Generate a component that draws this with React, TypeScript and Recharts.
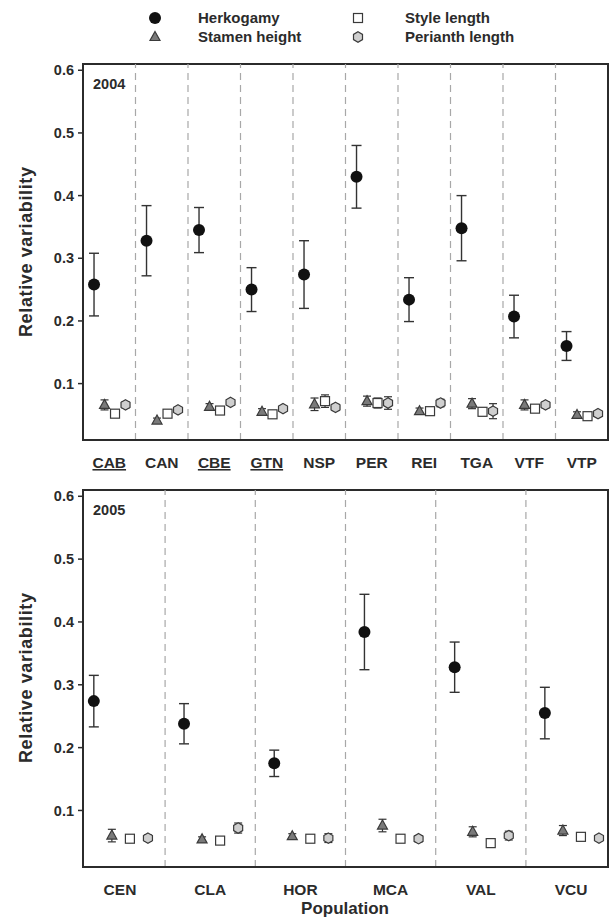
import React from "react";
import {
  ScatterChart,
  Scatter,
  XAxis,
  YAxis,
  ErrorBar,
  ReferenceLine,
  ReferenceArea,
  Label,
} from "recharts";

const FONT = '"Liberation Sans", Arial, sans-serif';
const INK = "#2b2b2b";

// 2004 populations
const pops2004 = ["CAB", "CAN", "CBE", "GTN", "NSP", "PER", "REI", "TGA", "VTF", "VTP"];
const underlined2004 = ["CAB", "CBE", "GTN"];
const herk2004 = [0.258, 0.328, 0.345, 0.25, 0.274, 0.43, 0.234, 0.348, 0.207, 0.16];
const herkErr2004 = [0.05, 0.056, 0.036, 0.035, 0.054, 0.05, 0.035, 0.052, 0.034, 0.023];
const stamen2004 = [0.066, 0.041, 0.063, 0.055, 0.067, 0.072, 0.056, 0.068, 0.066, 0.05];
const stamenErr2004 = [0.008, 0.004, 0.005, 0.005, 0.01, 0.008, 0.005, 0.008, 0.008, 0.005];
const style2004 = [0.052, 0.052, 0.057, 0.051, 0.072, 0.069, 0.056, 0.055, 0.06, 0.048];
const styleErr2004 = [0.005, 0.004, 0.004, 0.004, 0.01, 0.008, 0.004, 0.006, 0.005, 0.004];
const perianth2004 = [0.066, 0.058, 0.07, 0.06, 0.062, 0.069, 0.069, 0.056, 0.066, 0.052];
const perianthErr2004 = [0.005, 0.004, 0.004, 0.004, 0.005, 0.01, 0.006, 0.012, 0.005, 0.004];

// 2005 populations
const pops2005 = ["CEN", "CLA", "HOR", "MCA", "VAL", "VCU"];
const herk2005 = [0.274, 0.238, 0.175, 0.384, 0.328, 0.255];
const herkErr2005 = [0.041, 0.032, 0.021, 0.06, 0.04, 0.041];
const stamen2005 = [0.06, 0.054, 0.059, 0.076, 0.066, 0.068];
const stamenErr2005 = [0.01, 0.004, 0.004, 0.01, 0.008, 0.008];
const style2005 = [0.055, 0.052, 0.055, 0.055, 0.048, 0.058];
const styleErr2005 = [0.004, 0.004, 0.004, 0.004, 0.004, 0.005];
const perianth2005 = [0.056, 0.072, 0.056, 0.055, 0.06, 0.056];
const perianthErr2005 = [0.005, 0.008, 0.007, 0.005, 0.007, 0.004];

const yTicks = [0.1, 0.2, 0.3, 0.4, 0.5, 0.6];
const offsets = [-0.29, -0.09, 0.11, 0.31];

const toPoints = (vals: number[], errs: number[], off: number) =>
  vals.map((v, i) => ({ x: i + off, y: v, err: errs[i] }));

const Dot = ({ cx, cy }: any) => <circle cx={cx} cy={cy} r={6} fill="#111" />;
const Tri = ({ cx, cy }: any) => (
  <polygon
    points={`${cx},${cy - 5.5} ${cx + 5},${cy + 3.5} ${cx - 5},${cy + 3.5}`}
    fill="#7a7a7a"
    stroke="#3a3a3a"
    strokeWidth={1.2}
  />
);
const Sq = ({ cx, cy }: any) => (
  <rect x={cx - 4.5} y={cy - 4.5} width={9} height={9} fill="#fff" stroke="#3a3a3a" strokeWidth={1.2} />
);
const hexPts = (cx: number, cy: number, r: number) =>
  [0, 1, 2, 3, 4, 5]
    .map((k) => {
      const a = ((-90 + 60 * k) * Math.PI) / 180;
      return `${cx + r * Math.cos(a)},${cy + r * Math.sin(a)}`;
    })
    .join(" ");
const Hex = ({ cx, cy }: any) => (
  <polygon points={hexPts(cx, cy, 5.2)} fill="#cfcfcf" stroke="#3a3a3a" strokeWidth={1.2} />
);

const XTick = ({ x, y, payload, labels, underlined }: any) => {
  const name = labels[payload.value];
  return (
    <text
      x={x}
      y={y + 26}
      textAnchor="middle"
      fill={INK}
      fontFamily={FONT}
      fontWeight="bold"
      fontSize={15.5}
      textDecoration={underlined.includes(name) ? "underline" : undefined}
    >
      {name}
    </text>
  );
};

function Panel({
  pops,
  underlined,
  series,
  xDomain,
  year,
  height,
  marginTop,
  xAxisHeight,
  plotMid,
  titleY,
}: any) {
  const seps = pops.slice(1).map((_: string, i: number) => i + 0.5);
  return (
    <ScatterChart
      width={610}
      height={height}
      margin={{ top: marginTop, right: 2, bottom: 0, left: 0 }}
    >
      <XAxis
        type="number"
        dataKey="x"
        domain={xDomain}
        ticks={pops.map((_: string, i: number) => i)}
        interval={0}
        allowDataOverflow
        height={xAxisHeight}
        axisLine={{ stroke: INK, strokeWidth: 2 }}
        tickLine={false}
        tickSize={0}
        tick={<XTick labels={pops} underlined={underlined} />}
      >
        {titleY != null && (
          <Label
            content={() => (
              <text
                x={345}
                y={titleY}
                textAnchor="middle"
                fill={INK}
                fontFamily={FONT}
                fontWeight="bold"
                fontSize={17}
              >
                Population
              </text>
            )}
          />
        )}
      </XAxis>
      <YAxis
        type="number"
        dataKey="y"
        domain={[0.01, 0.61]}
        ticks={yTicks}
        allowDataOverflow
        width={83}
        tickFormatter={(v: number) => v.toFixed(1)}
        axisLine={{ stroke: INK, strokeWidth: 2 }}
        tickLine={{ stroke: INK, strokeWidth: 1.5 }}
        tickSize={5}
        tickMargin={4}
        tick={{ fill: INK, fontFamily: FONT, fontWeight: "bold", fontSize: 14.5 }}
      >
        <Label
          content={() => (
            <text
              x={26}
              y={plotMid}
              transform={`rotate(-90 26 ${plotMid})`}
              textAnchor="middle"
              dominantBaseline="central"
              fill={INK}
              fontFamily={FONT}
              fontWeight="bold"
              fontSize={18}
              textLength={170}
              lengthAdjust="spacing"
            >
              Relative variability
            </text>
          )}
        />
      </YAxis>
      {seps.map((s: number) => (
        <ReferenceLine key={s} x={s} stroke="#a8a8a8" strokeWidth={1.2} strokeDasharray="7 5" />
      ))}
      <ReferenceArea
        x1={xDomain[0]}
        x2={xDomain[1]}
        y1={0.01}
        y2={0.61}
        fill="none"
        stroke={INK}
        strokeWidth={2}
        ifOverflow="visible"
        label={{
          value: year,
          position: "insideTopLeft",
          offset: 10,
          dy: 5,
          fill: INK,
          fontFamily: FONT,
          fontWeight: "bold",
          fontSize: 14.5,
        }}
      />
      <Scatter data={series.herk} shape={Dot} isAnimationActive={false}>
        <ErrorBar dataKey="err" direction="y" width={5} stroke="#333" strokeWidth={1.4} isAnimationActive={false} />
      </Scatter>
      <Scatter data={series.stamen} shape={Tri} isAnimationActive={false}>
        <ErrorBar dataKey="err" direction="y" width={4} stroke="#333" strokeWidth={1.2} isAnimationActive={false} />
      </Scatter>
      <Scatter data={series.style} shape={Sq} isAnimationActive={false}>
        <ErrorBar dataKey="err" direction="y" width={4} stroke="#333" strokeWidth={1.2} isAnimationActive={false} />
      </Scatter>
      <Scatter data={series.perianth} shape={Hex} isAnimationActive={false}>
        <ErrorBar dataKey="err" direction="y" width={4} stroke="#333" strokeWidth={1.2} isAnimationActive={false} />
      </Scatter>
    </ScatterChart>
  );
}

const legendText: React.CSSProperties = {
  position: "absolute",
  fontFamily: FONT,
  fontWeight: "bold",
  fontSize: 15,
  color: INK,
  lineHeight: "18px",
  whiteSpace: "nowrap",
};

function LegendBlock() {
  return (
    <div style={{ position: "absolute", left: 0, top: 0, width: 610, height: 56 }}>
      <svg width={610} height={56} style={{ position: "absolute", left: 0, top: 0 }}>
        <Dot cx={155} cy={18} />
        <Tri cx={155} cy={37} />
        <Sq cx={358} cy={18} />
        <Hex cx={358} cy={37} />
      </svg>
      <div style={{ ...legendText, left: 198, top: 9 }}>Herkogamy</div>
      <div style={{ ...legendText, left: 198, top: 28 }}>Stamen height</div>
      <div style={{ ...legendText, left: 405, top: 9 }}>Style length</div>
      <div style={{ ...legendText, left: 405, top: 28 }}>Perianth length</div>
    </div>
  );
}

export default function App() {
  const s2004 = {
    herk: toPoints(herk2004, herkErr2004, offsets[0]),
    stamen: toPoints(stamen2004, stamenErr2004, offsets[1]),
    style: toPoints(style2004, styleErr2004, offsets[2]),
    perianth: toPoints(perianth2004, perianthErr2004, offsets[3]),
  };
  const s2005 = {
    herk: toPoints(herk2005, herkErr2005, offsets[0]),
    stamen: toPoints(stamen2005, stamenErr2005, offsets[1]),
    style: toPoints(style2005, styleErr2005, offsets[2]),
    perianth: toPoints(perianth2005, perianthErr2005, offsets[3]),
  };
  return (
    <div style={{ position: "absolute", left: 0, top: 0, width: 610, height: 920, background: "#fff" }}>
      <LegendBlock />
      <div style={{ position: "absolute", left: 0, top: 0 }}>
        <Panel
          pops={pops2004}
          underlined={underlined2004}
          series={s2004}
          xDomain={[-0.5, 9.5]}
          year="2004"
          height={480}
          marginTop={64}
          xAxisHeight={40}
          plotMid={252}
          titleY={null}
        />
      </div>
      <div style={{ position: "absolute", left: 0, top: 470 }}>
        <Panel
          pops={pops2005}
          underlined={[]}
          series={s2005}
          xDomain={[-0.41, 5.41]}
          year="2005"
          height={450}
          marginTop={20}
          xAxisHeight={53}
          plotMid={208}
          titleY={444}
        />
      </div>
    </div>
  );
}
